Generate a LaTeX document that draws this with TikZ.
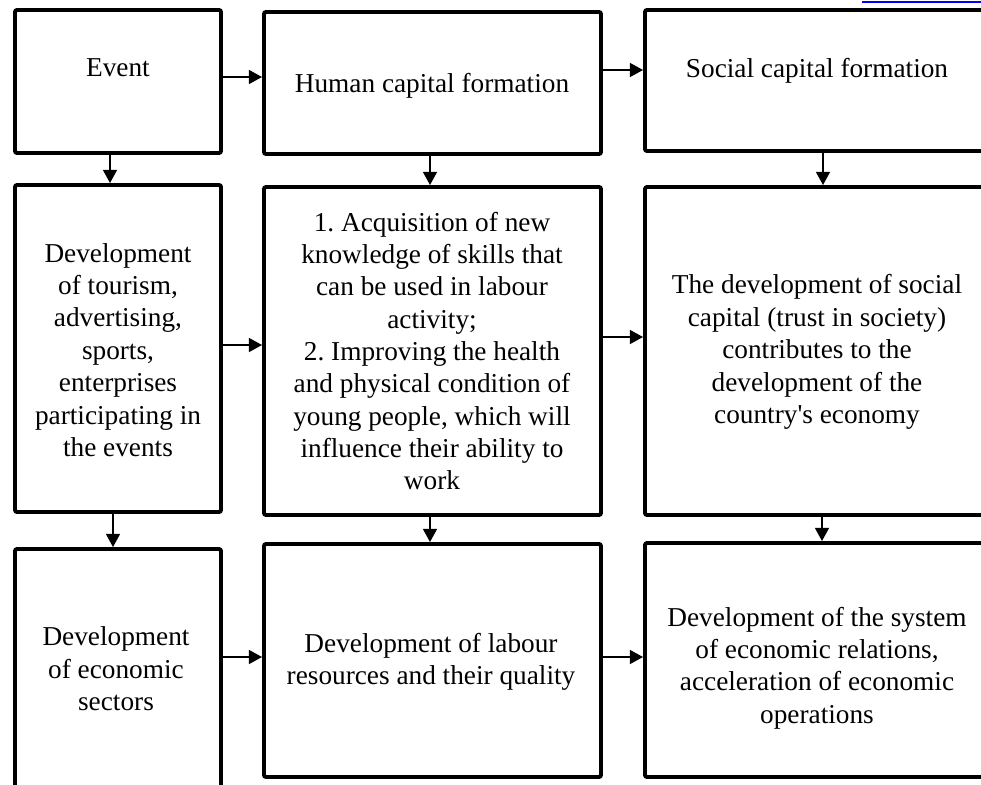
\documentclass[tikz,border=0pt]{standalone}
\usepackage{fontspec}
\setmainfont[Ligatures=TeXOff]{Liberation Serif}
\usetikzlibrary{arrows.meta}
\frenchspacing
\begin{document}
\begin{tikzpicture}[x=0.025cm,y=-0.025cm,
  box/.style={draw,line width=2.8pt,rounded corners=1.5pt,inner sep=0pt},
  lbl/.style={align=center,inner sep=0pt,font=\fontsize{19.4}{23}\selectfont},
  arr/.style={-{Triangle[length=0.33cm,width=0.35cm]},line width=1.2pt}]
\useasboundingbox (0,0) rectangle (981,784);
\clip (0,0) rectangle (981,784);
\draw[blue,line width=0.8pt] (862,2) -- (990,2);
\foreach \n/\x/\y/\w/\h in {ev/118/81.5/206/143, hc/432.5/83/337/142, sc/817.5/80.5/345/141,
    tour/118/348.5/206/327, skill/432.5/351/337/328, trust/817.5/351/345/328,
    sect/118/674.5/206/251, labour/432.5/660.5/337/233, rel/817.5/660/345/234}
  \node[box,minimum width=\w*0.025cm,minimum height=\h*0.025cm] (\n) at (\x,\y) {};
\node[lbl,anchor=base] (evt) at (118,76) {Event};
\node[lbl,anchor=base] (hct) at (432,92) {Human capital formation};
\node[lbl,anchor=base] (sct) at (817,77) {Social capital formation};
\node[lbl] (tourt) at (118,350) {Development\\of tourism,\\advertising,\\sports,\\enterprises\\participating in\\the events};
\node[lbl] (skillt) at (432,351) {1. Acquisition of new\\knowledge of skills that\\can be used in labour\\activity;\\2. Improving the health\\and physical condition of\\young people, which will\\influence their ability to\\work};
\node[lbl] (trustt) at (817,352) {The development of social\\capital (trust in society)\\contributes to the\\development of the\\country's economy};
\node[lbl] (sectt) at (116,669) {Development\\of economic\\sectors};
\node[lbl] (labourt) at (431,662) {Development of labour\\resources and their quality};
\node[lbl] (relt) at (817,668) {Development of the system\\of economic relations,\\acceleration of economic\\operations};
\draw[arr] (ev.east |- 0,77) -- (hc.west |- 0,77);
\draw[arr] (hc.east |- 0,70) -- (sc.west |- 0,70);
\draw[arr] (110,0 |- ev.south) -- (110,0 |- tour.north);
\draw[arr] (430,0 |- hc.south) -- (430,0 |- skill.north);
\draw[arr] (823,0 |- sc.south) -- (823,0 |- trust.north);
\draw[arr] (tour.east |- 0,345) -- (skill.west |- 0,345);
\draw[arr] (skill.east |- 0,337) -- (trust.west |- 0,337);
\draw[arr] (113,0 |- tour.south) -- (113,0 |- sect.north);
\draw[arr] (430,0 |- skill.south) -- (430,0 |- labour.north);
\draw[arr] (822,0 |- trust.south) -- (822,0 |- rel.north);
\draw[arr] (sect.east |- 0,657) -- (labour.west |- 0,657);
\draw[arr] (labour.east |- 0,657) -- (rel.west |- 0,657);
\end{tikzpicture}
\end{document}
